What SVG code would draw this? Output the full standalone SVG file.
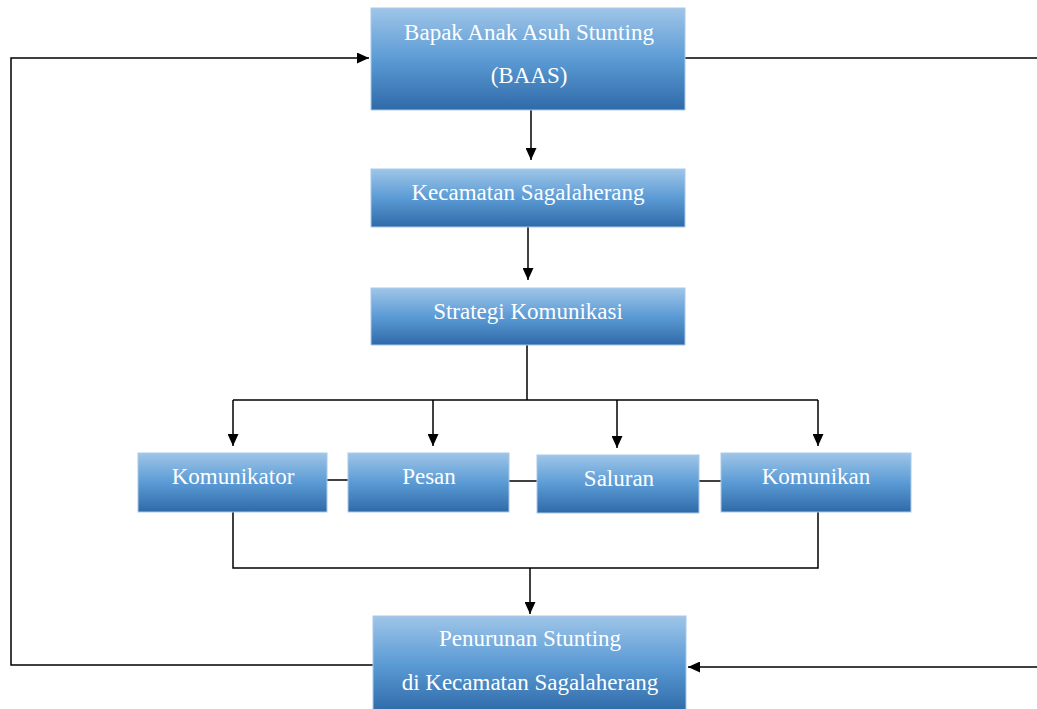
<svg xmlns="http://www.w3.org/2000/svg" width="1037" height="709" viewBox="0 0 1037 709">
<style>
.box{fill:url(#g);stroke:#a9c9ea;stroke-width:1}
.t{font-family:"Liberation Serif","Times New Roman",serif;font-size:23px;fill:#ffffff;text-anchor:middle}
.c{fill:none;stroke:#000;stroke-width:1.5}
</style>
<defs>
<linearGradient id="g" x1="0" y1="0" x2="0" y2="1">
<stop offset="0" stop-color="#9fc5e8"/>
<stop offset="0.5" stop-color="#5b9bd5"/>
<stop offset="1" stop-color="#2f6aa8"/>
</linearGradient>
<marker id="a" viewBox="0 0 10 10" refX="10" refY="5" markerWidth="12" markerHeight="11" markerUnits="userSpaceOnUse" orient="auto" preserveAspectRatio="none">
<path d="M0,0 L10,5 L0,10 z" fill="#000"/>
</marker>
</defs>
<g id="connectors">
<path class="c" d="M531,110 V160" marker-end="url(#a)"/>
<path class="c" d="M528,227 V280" marker-end="url(#a)"/>
<path class="c" d="M527,345 V400"/>
<path class="c" d="M233,400 H818"/>
<path class="c" d="M233,400 V446" marker-end="url(#a)"/>
<path class="c" d="M433,400 V446" marker-end="url(#a)"/>
<path class="c" d="M617,400 V448" marker-end="url(#a)"/>
<path class="c" d="M818,400 V446" marker-end="url(#a)"/>
<path class="c" d="M327,480 H348"/>
<path class="c" d="M509,481 H537"/>
<path class="c" d="M699,481 H721"/>
<path class="c" d="M233,512 V568 H818 V512"/>
<path class="c" d="M530,568 V614" marker-end="url(#a)"/>
<path class="c" d="M373,665 H11 V58 H369" marker-end="url(#a)"/>
<path class="c" d="M685,58 H1039 V667 H688" marker-end="url(#a)"/>
</g>
<g id="baas"><rect class="box" x="371" y="8" width="314" height="102"/>
<text class="t" x="529" y="40">Bapak Anak Asuh Stunting</text>
<text class="t" x="529" y="83">(BAAS)</text></g>
<g id="kecamatan"><rect class="box" x="371" y="169" width="314" height="58"/>
<text class="t" x="528" y="200">Kecamatan Sagalaherang</text></g>
<g id="strategi"><rect class="box" x="371" y="288" width="314" height="57"/>
<text class="t" x="528" y="319">Strategi Komunikasi</text></g>
<g id="komunikator"><rect class="box" x="138" y="453" width="189" height="59"/>
<text class="t" x="233" y="484">Komunikator</text></g>
<g id="pesan"><rect class="box" x="348" y="453" width="161" height="59"/>
<text class="t" x="429" y="484">Pesan</text></g>
<g id="saluran"><rect class="box" x="537" y="455" width="162" height="58"/>
<text class="t" x="619" y="486">Saluran</text></g>
<g id="komunikan"><rect class="box" x="721" y="453" width="190" height="59"/>
<text class="t" x="816" y="484">Komunikan</text></g>
<g id="penurunan"><rect class="box" x="373" y="616" width="313" height="96"/>
<text class="t" x="530" y="646">Penurunan Stunting</text>
<text class="t" x="530" y="690">di Kecamatan Sagalaherang</text></g>
</svg>
